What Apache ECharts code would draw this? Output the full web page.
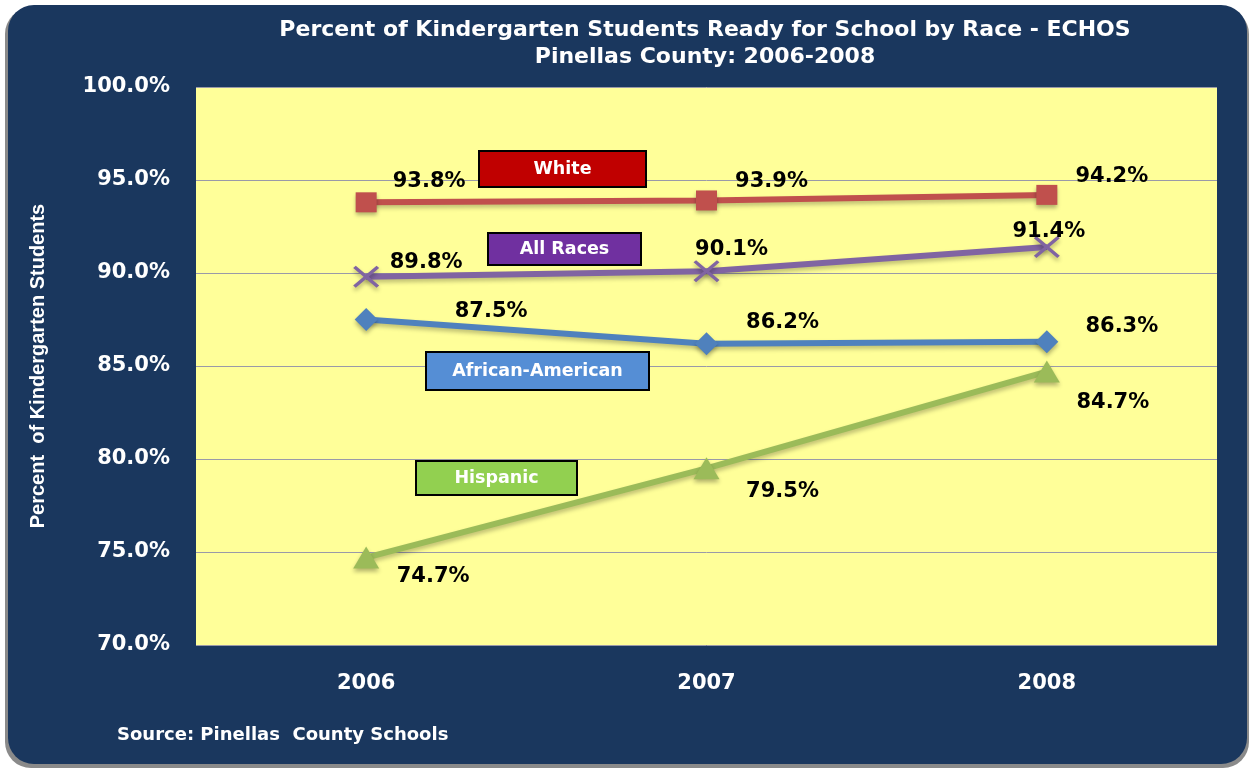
<!DOCTYPE html>
<html><head><meta charset="utf-8">
<script src="https://cdn.jsdelivr.net/npm/echarts@6/dist/echarts.min.js"></script>
<style>html,body{margin:0;padding:0;background:#fff}#c{width:1249px;height:768px}</style>
</head><body><div id="c"></div>
<script>
const categories = ['2006', '2007', '2008'];
const seriesNames = ['White', 'All Races', 'African-American', 'Hispanic'];
const white = [93.8, 93.9, 94.2];
const allRaces = [89.8, 90.1, 91.4];
const africanAmerican = [87.5, 86.2, 86.3];
const hispanic = [74.7, 79.5, 84.7];
const yTicks = [70, 75, 80, 85, 90, 95, 100];
const titleLines = ['Percent of Kindergarten Students Ready for School by Race - ECHOS', 'Pinellas County: 2006-2008'];
const yAxisName = 'Percent  of Kindergarten Students';
const sourceText = 'Source: Pinellas  County Schools';

// layout / style only
const colors = ['#c0504d', '#8064a2', '#4f81bd', '#9bbb59'];
const boxColors = ['#c00000', '#7030a0', '#558ed5', '#92d050'];
const boxes = [[479,151,167,36],[488,233,153,32],[426,352,223,38],[416,461,161,34]];
const labelOffsets = [
  [[63,-21],[65,-19],[65,-18]],
  [[60,-14],[25,-22],[2,-15]],
  [[125,-8],[76,-21],[75,-15]],
  [[67,19],[76,23],[66,31]]
];
const symbols = ['rect', 'path://M0,1L1,0L5,4L9,0L10,1L6,5L10,9L9,10L5,6L1,10L0,9L4,5Z', 'diamond', 'triangle'];
const symbolSizes = [[21,20],[26,22],[23,23],[26,22]];
const FONT = '"DejaVu Sans", Verdana, sans-serif';
const NARROW = '"Liberation Sans Narrow", "Arial Narrow", "Liberation Sans", sans-serif';

const values = [white, allRaces, africanAmerican, hispanic];
const chart = echarts.init(document.getElementById('c'));

const series = values.map((vals, si) => ({
  name: seriesNames[si],
  type: 'line',
  data: vals.map((v, i) => ({
    value: v,
    label: { offset: labelOffsets[si][i] }
  })),
  symbol: symbols[si],
  symbolSize: symbolSizes[si],
  showAllSymbol: true,
  lineStyle: { width: 6, color: colors[si], shadowColor: 'rgba(0,0,0,0.25)', shadowBlur: 4, shadowOffsetY: 3 },
  itemStyle: { color: colors[si], shadowColor: 'rgba(0,0,0,0.3)', shadowBlur: 4, shadowOffsetY: 3 },
  label: {
    show: true, position: 'inside',
    formatter: p => p.value.toFixed(1) + '%',
    color: '#000', fontFamily: FONT, fontWeight: 'bold', fontSize: 21,
    align: 'center', verticalAlign: 'middle'
  },
  emphasis: { disabled: true },
  animation: false,
  z: 3 + si
}));

const graphics = [
  { type: 'rect', shape: { x: 5, y: 8, width: 1244, height: 760, r: 26 }, style: { fill: '#8a8a8a' }, z: -10, silent: true },
  { type: 'rect', shape: { x: 8, y: 5, width: 1239, height: 759, r: 26 }, style: { fill: '#1a375e' }, z: -9, silent: true },
  { type: 'text', left: 117, top: 726, style: { text: sourceText, fill: '#fff', font: 'bold 18px ' + FONT }, z: 10 },
];
boxes.forEach((b, i) => {
  graphics.push({ type: 'rect', shape: { x: b[0], y: b[1], width: b[2], height: b[3] }, style: { fill: boxColors[i], stroke: '#000', lineWidth: 2 }, z: 20 });
  graphics.push({ type: 'text', x: b[0] + b[2] / 2, y: b[1] + b[3] / 2, style: { text: seriesNames[i], fill: '#fff', font: 'bold 17.5px ' + FONT, align: 'center', verticalAlign: 'middle' }, z: 21 });
});

chart.setOption({
  backgroundColor: '#ffffff',
  animation: false,
  title: {
    text: titleLines.join('\n'), left: 700, top: 12, textAlign: 'center',
    textStyle: { color: '#fff', fontFamily: FONT, fontWeight: 'bold', fontSize: 22, lineHeight: 27 }
  },
  grid: { left: 196, top: 87, width: 1021, height: 558, show: true, backgroundColor: '#ffff99', borderWidth: 0 },
  xAxis: {
    type: 'category', data: categories, boundaryGap: true,
    axisLine: { show: false }, axisTick: { show: false }, splitLine: { show: false },
    axisLabel: { color: '#fff', fontFamily: FONT, fontWeight: 'bold', fontSize: 21, margin: 28 }
  },
  yAxis: {
    type: 'value', min: yTicks[0], max: yTicks[yTicks.length - 1], interval: 5,
    axisLine: { show: false }, axisTick: { show: false },
    splitLine: { show: true, lineStyle: { color: '#9a9aa8', width: 1 } },
    axisLabel: { color: '#fff', fontFamily: FONT, fontWeight: 'bold', fontSize: 21, margin: 26, formatter: v => v.toFixed(1) + '%' },
    name: yAxisName, nameLocation: 'middle', nameGap: 148, nameRotate: 90,
    nameTextStyle: { color: '#fff', fontFamily: NARROW, fontWeight: 'bold', fontSize: 20 }
  },
  graphic: graphics,
  series: series
});
</script></body></html>
